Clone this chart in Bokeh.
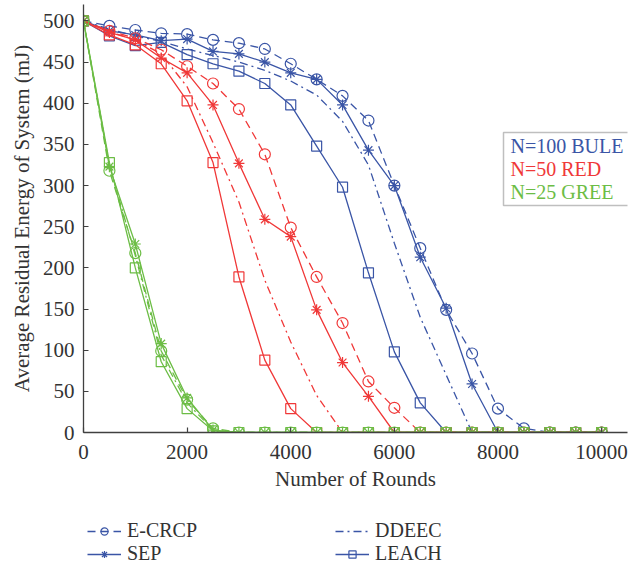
from bokeh.plotting import figure
from bokeh.layouts import column
from bokeh.models import Range1d, FixedTicker, Legend, LegendItem, Label, BoxAnnotation
from bokeh.embed import file_html
from bokeh.resources import INLINE

# ---------------- data ----------------
rounds = [0, 500, 1000, 1500, 2000, 2500, 3000, 3500, 4000, 4500, 5000,
          5500, 6000, 6500, 7000, 7500, 8000, 8500, 9000, 9500, 10000]
x_ticks = [0, 2000, 4000, 6000, 8000, 10000]
y_ticks = [0, 50, 100, 150, 200, 250, 300, 350, 400, 450, 500]

protocols = ["E-CRCP", "SEP", "DDEEC", "LEACH"]
groups = ["N=100 BULE", "N=50 RED", "N=25 GREE"]

# N = 100 (blue)
ecrcp_100 = [500, 494, 489, 485, 484, 477, 473, 466, 448, 429, 409, 379, 300, 224, 149, 96, 29, 5, 0, 0, 0]
sep_100 = [500, 488, 483, 476, 478, 463, 460, 450, 437, 429, 398, 343, 300, 213, 151, 59, 0, 0, 0, 0, 0]
ddeec_100 = [500, 490, 482, 475, 466, 458, 450, 440, 427, 410, 378, 325, 230, 140, 70, 0, 0, 0, 0, 0, 0]
leach_100 = [500, 482, 470, 474, 459, 448, 439, 424, 398, 348, 298, 194, 98, 36, 0, 0, 0, 0, 0, 0, 0]

# N = 50 (red)
ecrcp_50 = [500, 488, 479, 465, 445, 424, 393, 338, 249, 189, 133, 62, 30, 0, 0, 0, 0, 0, 0, 0, 0]
sep_50 = [500, 486, 477, 455, 437, 398, 327, 259, 238, 149, 85, 44, 0, 0, 0, 0, 0, 0, 0, 0, 0]
ddeec_50 = [500, 487, 477, 460, 420, 352, 280, 185, 110, 45, 0, 0, 0, 0, 0, 0, 0, 0, 0, 0, 0]
leach_50 = [500, 483, 471, 448, 403, 328, 189, 88, 29, 0, 0, 0, 0, 0, 0, 0, 0, 0, 0, 0, 0]

# N = 25 (green)
ecrcp_25 = [500, 318, 218, 99, 40, 5, 0, 0, 0, 0, 0, 0, 0, 0, 0, 0, 0, 0, 0, 0, 0]
sep_25 = [500, 323, 229, 108, 42, 3, 0, 0, 0, 0, 0, 0, 0, 0, 0, 0, 0, 0, 0, 0, 0]
ddeec_25 = [500, 325, 215, 94, 36, 3, 0, 0, 0, 0, 0, 0, 0, 0, 0, 0, 0, 0, 0, 0, 0]
leach_25 = [500, 328, 200, 86, 29, 2, 0, 0, 0, 0, 0, 0, 0, 0, 0, 0, 0, 0, 0, 0, 0]

series = {
    "N=100 BULE": [ecrcp_100, sep_100, ddeec_100, leach_100],
    "N=50 RED": [ecrcp_50, sep_50, ddeec_50, leach_50],
    "N=25 GREE": [ecrcp_25, sep_25, ddeec_25, leach_25],
}

# ---------------- style ----------------
FONT = "Liberation Serif"
TEXT = "#333333"
AXIS = "#404040"
colors = {"N=100 BULE": "#3a55a6", "N=50 RED": "#f03838", "N=25 GREE": "#6cbd45"}
dash = {"E-CRCP": "8 5", "SEP": "solid", "DDEEC": "8 4 2 4", "LEACH": "solid"}
marker = {"E-CRCP": "circle", "SEP": "asterisk", "DDEEC": None, "LEACH": "square"}
msize = {"E-CRCP": 11, "SEP": 11, "LEACH": 10}

p = figure(width=640, height=508, output_backend="svg", toolbar_location=None,
           x_range=Range1d(0, 10500), y_range=Range1d(0, 520),
           min_border_left=83, min_border_right=13, min_border_top=4,
           min_border_bottom=76)
p.outline_line_color = None
p.grid.visible = False
p.background_fill_color = "white"
p.border_fill_color = "white"

p.xaxis.ticker = FixedTicker(ticks=x_ticks)
p.yaxis.ticker = FixedTicker(ticks=y_ticks)
for ax in (p.xaxis[0], p.yaxis[0]):
    ax.major_tick_in = 5
    ax.major_tick_out = 0
    ax.minor_tick_in = 0
    ax.minor_tick_out = 0
    ax.axis_line_color = AXIS
    ax.axis_line_width = 1.3
    ax.major_tick_line_color = AXIS
    ax.major_tick_line_width = 1.2
    ax.major_label_text_font = FONT
    ax.major_label_text_font_size = "21px"
    ax.major_label_text_color = TEXT
    ax.axis_label_text_font = FONT
    ax.axis_label_text_font_size = "21px"
    ax.axis_label_text_font_style = "normal"
    ax.axis_label_text_color = TEXT
p.xaxis.axis_label = "Number of Rounds"
p.yaxis.axis_label = "Average Residual Energy of System (mJ)"
p.xaxis.major_label_standoff = 12
p.xaxis.axis_label_standoff = 5
p.yaxis.major_label_standoff = 9
p.yaxis.axis_label_standoff = 6

blue_renderers = {}
for g in groups:
    c = colors[g]
    for proto, vals in zip(protocols, series[g]):
        p.line(rounds, vals, line_color=c, line_width=1.3, line_dash=dash[proto])
        if marker[proto]:
            p.scatter(rounds, vals, marker=marker[proto], size=msize[proto],
                      line_color=c, line_width=1.2, fill_color=None)

# group colour key box
p.add_layout(BoxAnnotation(left=420, right=547, top=300, bottom=227,
                           left_units="screen", right_units="screen",
                           top_units="screen", bottom_units="screen",
                           fill_color="white", fill_alpha=1.0,
                           line_color="#2a2a2a", line_width=1.5))
key_y = {"N=100 BULE": 287, "N=50 RED": 264, "N=25 GREE": 241}
for g in groups:
    p.add_layout(Label(x=427, y=key_y[g], x_units="screen", y_units="screen",
                       text=g, text_font=FONT, text_font_size="20px",
                       text_color=colors[g], text_baseline="middle"))

# ---------------- legend strip below the plot ----------------
# the N=100 series are re-drawn here only as legend sources; the view range
# of this strip is empty, so nothing but the legend itself shows.
lg = figure(width=640, height=55, output_backend="svg", toolbar_location=None,
            x_range=Range1d(-2, -1), y_range=Range1d(-2, -1),
            x_axis_type=None, y_axis_type=None,
            min_border_left=0, min_border_right=0, min_border_top=0, min_border_bottom=0)
lg.outline_line_color = None
lg.grid.visible = False
blue = colors["N=100 BULE"]
items = []
for proto, vals in zip(protocols, series["N=100 BULE"]):
    rs = [lg.line(rounds, vals, line_color=blue, line_width=1.3, line_dash=dash[proto])]
    if marker[proto]:
        rs.append(lg.scatter(rounds, vals, marker=marker[proto], size=msize[proto] - 1,
                             line_color=blue, line_width=1.2, fill_color=None))
    items.append(LegendItem(label=proto, renderers=rs))
legend = Legend(items=items, location=(4, -2), orientation="vertical", nrows=2,
                glyph_width=34, glyph_height=18, label_standoff=6,
                label_width=208, label_height=18, spacing=0, padding=0, margin=0,
                border_line_color=None, background_fill_alpha=0,
                label_text_font=FONT, label_text_font_size="20px",
                label_text_color=TEXT)
lg.add_layout(legend, "center")

layout = column(p, lg, spacing=0)
open("out.html", "w").write(file_html(layout, INLINE))
